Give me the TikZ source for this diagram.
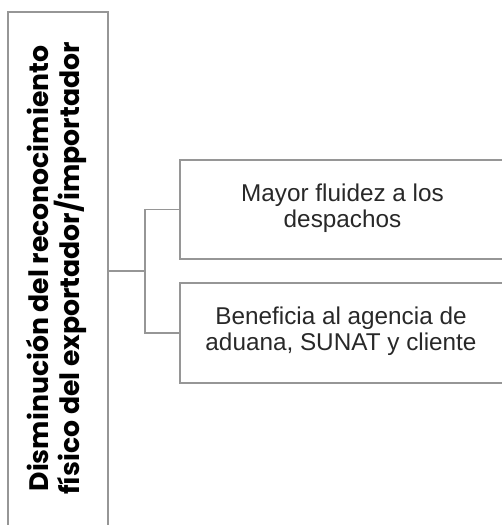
\documentclass[tikz,border=0pt]{standalone}
\usepackage{fontspec}
\setmainfont{Liberation Sans}
\newfontfamily\titlefont{Poppins}
\definecolor{linegray}{RGB}{150,150,150}
\definecolor{txtgray}{RGB}{40,40,40}
\begin{document}
\begin{tikzpicture}[x=1bp,y=1bp,
  box/.style={draw=linegray, line width=1.3bp, rectangle, inner sep=0pt},
  conn/.style={draw=linegray, line width=1.3bp},
  lefttext/.style={rotate=90, align=center, inner sep=0pt,
    font=\titlefont\bfseries\fontsize{26.7bp}{31bp}\selectfont, text=black},
  righttext/.style={align=center, inner sep=0pt,
    font=\fontsize{24.3bp}{26bp}\selectfont, text=txtgray}]
\useasboundingbox (0,0) rectangle (502,525);
\clip (0,0) rectangle (502,525);
\node[box, minimum width=100bp, minimum height=518bp] (main) at (58,254) {};
\node[lefttext] (maintext) at (56,256.5) {Disminución del reconocimiento\\físico del exportador/importador};
\node[box, minimum width=323bp, minimum height=99bp] (b1) at (341.5,315.5) {};
\node[righttext] (t1) at (342.5,317) {Mayor fluidez a los\\despachos};
\node[box, minimum width=323bp, minimum height=100bp] (b2) at (341.5,192) {};
\node[righttext] (t2) at (341,194) {Beneficia al agencia de\\aduana, SUNAT y cliente};
\coordinate (j) at (145,254);
\draw[conn] (main.east) -- (j);
\draw[conn] (b1.west) -| (j) |- (b2.west);
\end{tikzpicture}
\end{document}
